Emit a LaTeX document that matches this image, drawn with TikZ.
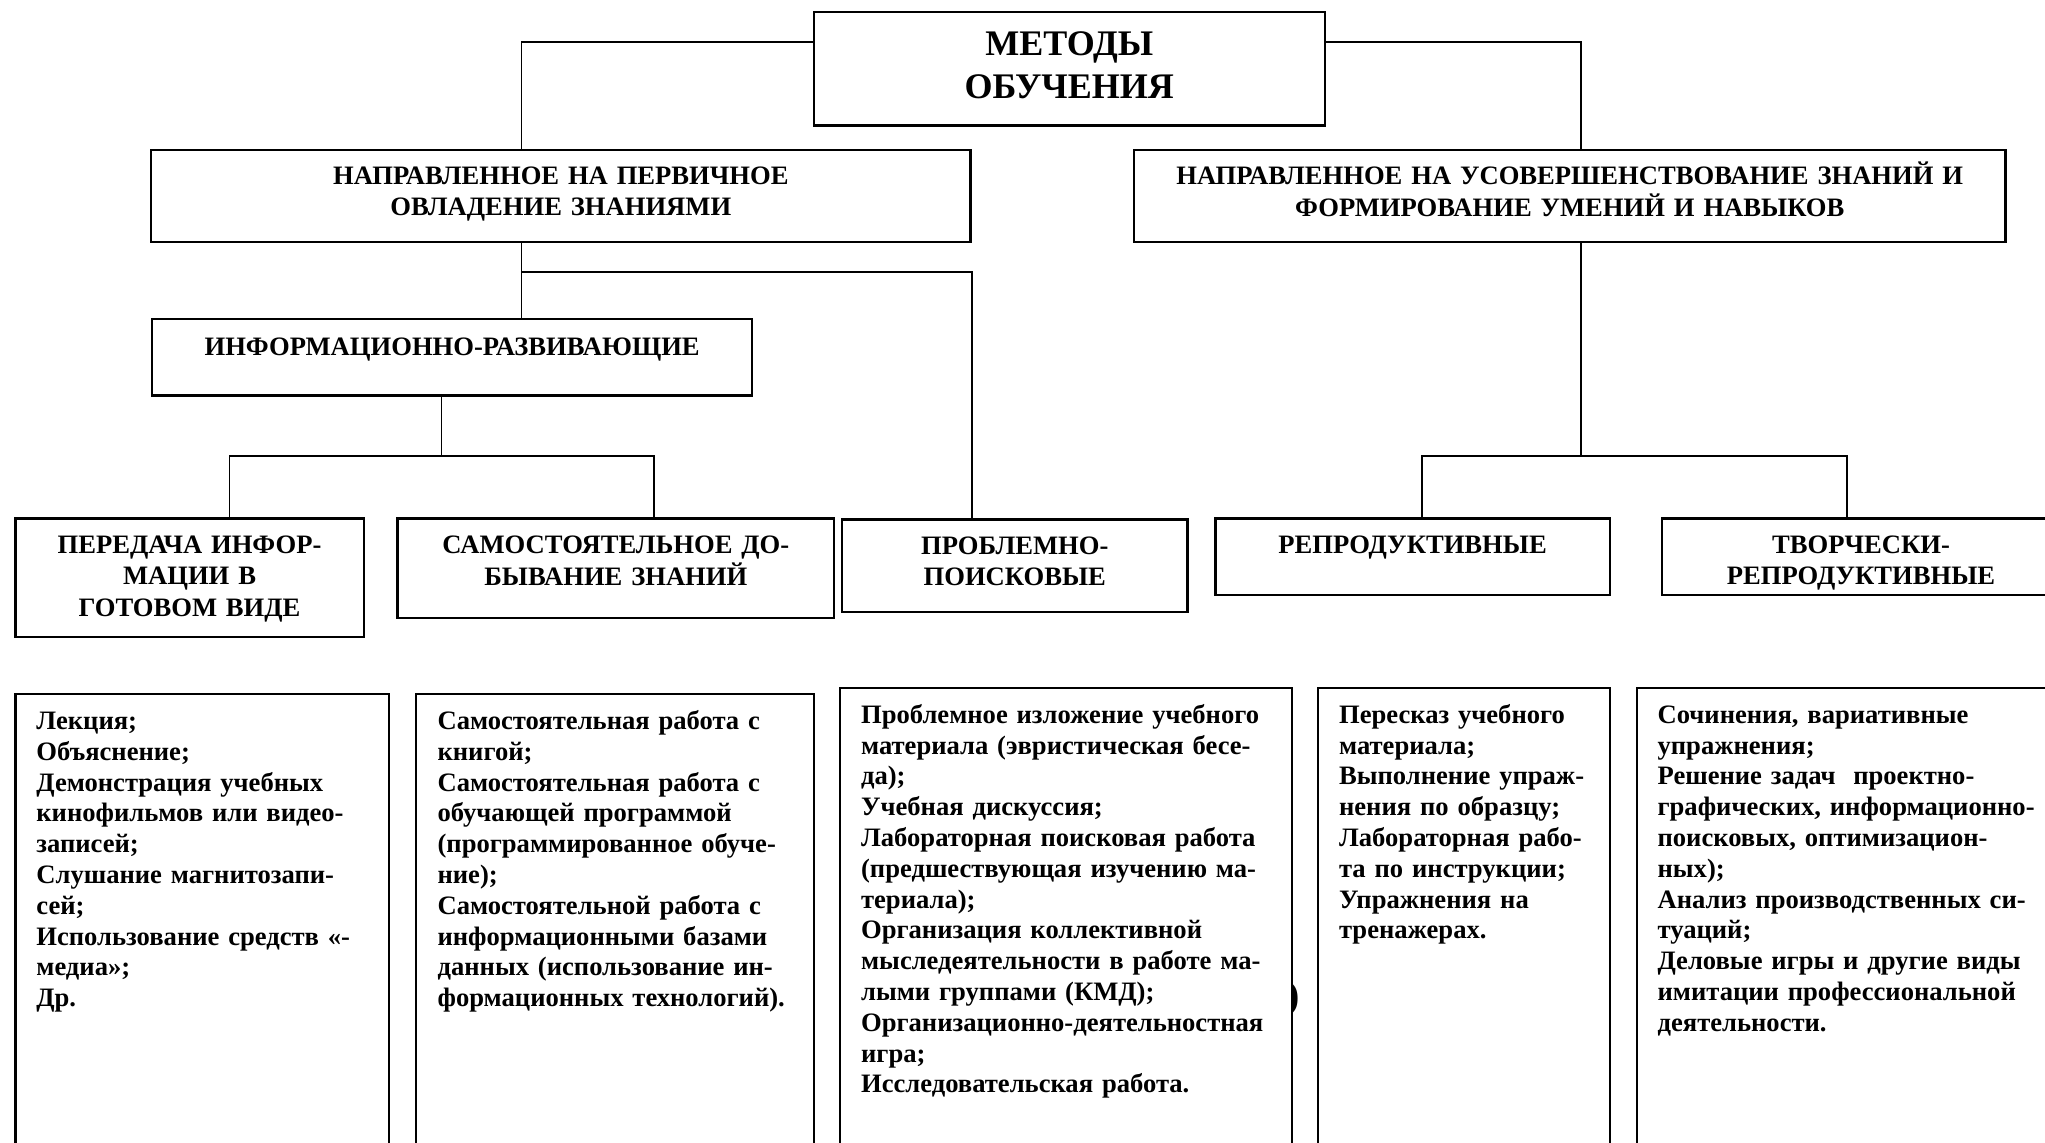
\documentclass[tikz,border=0pt]{standalone}
\usepackage{fontspec}
\setmainfont{Liberation Serif}
\newcommand\headfont{\fontsize{13.3}{15.7}\selectfont\bfseries}
\newcommand\listfont{\fontsize{13.3}{15.4}\selectfont\bfseries}
\newcommand\titlefont{\fontsize{18}{21.2}\selectfont\bfseries}
\newcommand\headtab[1]{\begin{tabular}[t]{@{}c@{}}#1\end{tabular}}
\newcommand\listtab[1]{\begin{tabular}[t]{@{}l@{}}#1\end{tabular}}
\tikzset{
  boxline/.style={draw, line width=1.1pt, fill=white},
  hbox/.style={boxline, inner sep=0pt, anchor=north west, align=center, font=\headfont, text height=17pt},
  lbox/.style={boxline, inner ysep=0pt, inner xsep=10.5pt, anchor=north west, align=left, font=\listfont, text height=17.8pt},
  conn/.style={line width=0.9pt}
}
\begin{document}
\begin{tikzpicture}[x=0.5pt,y=-0.5pt]
\useasboundingbox (0,0) rectangle (2045,1142);
\clip (0,0) rectangle (2045,1142);
\fill[white] (0,0) rectangle (2045,1142);

% stray parenthesis
\node[inner sep=0pt, font=\fontsize{20}{24}\selectfont\bfseries] (paren) at (1293,999) {)};

% header boxes
\node[hbox, font=\titlefont, text width=255.4pt, text height=21.85pt, text depth=34.8pt] (title) at (812.7,11) {\headtab{МЕТОДЫ\\ОБУЧЕНИЯ}};
\node[hbox, text width=409.7pt, text depth=28.85pt] (n1) at (150,149) {\headtab{НАПРАВЛЕННОЕ НА ПЕРВИЧНОЕ\\ОВЛАДЕНИЕ ЗНАНИЯМИ}};
\node[hbox, text width=435.8pt, text depth=28.85pt] (n2) at (1132.8,149) {\headtab{НАПРАВЛЕННОЕ НА УСОВЕРШЕНСТВОВАНИЕ ЗНАНИЙ И\\ФОРМИРОВАНИЕ УМЕНИЙ И НАВЫКОВ}};
\node[hbox, text width=300pt, text height=18.3pt, text depth=20pt] (inf) at (151,317.7) {\headtab{ИНФОРМАЦИОННО-РАЗВИВАЮЩИЕ}};
\node[hbox, text width=174.1pt, text height=17.5pt, text depth=41.85pt] (per) at (14.3,517.3) {\headtab{ПЕРЕДАЧА ИНФОР-\\МАЦИИ В\\ГОТОВОМ ВИДЕ}};
\node[hbox, text width=218.3pt, text height=17.5pt, text depth=32.2pt] (sam) at (396.4,517.3) {\headtab{САМОСТОЯТЕЛЬНОЕ ДО-\\БЫВАНИЕ ЗНАНИЙ}};
\node[hbox, text width=172.65pt, text height=17.4pt, text depth=28.8pt] (prob) at (841,518.3) {\headtab{ПРОБЛЕМНО-\\ПОИСКОВЫЕ}};
\node[hbox, text width=197.2pt, text height=17.5pt, text depth=20.85pt] (rep) at (1214.3,517.3) {\headtab{РЕПРОДУКТИВНЫЕ}};
\node[hbox, text width=199.1pt, text height=17.5pt, text depth=20.85pt] (tv) at (1660.8,517.3) {\headtab{ТВОРЧЕСКИ-\\РЕПРОДУКТИВНЫЕ}};

% list boxes
\node[lbox, text width=165.85pt, text depth=220.85pt] (b1) at (14.3,692.7) {\listtab{Лекция;\\Объяснение;\\Демонстрация учебных\\кинофильмов или видео-\\записей;\\Слушание магнитозапи-\\сей;\\Использование средств «-\\медиа»;\\Др.}};
\node[lbox, text width=177.25pt, inner xsep=11pt, text depth=220.85pt] (b2) at (414.5,692.7) {\listtab{Самостоятельная работа с\\книгой;\\Самостоятельная работа с\\обучающей программой\\(программированное обуче-\\ние);\\Самостоятельной работа с\\информационными базами\\данных (использование ин-\\формационных технологий).}};
\node[lbox, text width=204.85pt, text depth=223.95pt] (b3) at (839,686.5) {\listtab{Проблемное изложение учебного\\материала (эвристическая бесе-\\да);\\Учебная дискуссия;\\Лабораторная поисковая работа\\(предшествующая изучению ма-\\териала);\\Организация коллективной\\мыследеятельности в работе ма-\\лыми группами (КМД);\\Организационно-деятельностная\\игра;\\Исследовательская работа.}};
\node[lbox, text width=124.85pt, text depth=223.95pt] (b4) at (1317,686.5) {\listtab{Пересказ учебного\\материала;\\Выполнение упраж-\\нения по образцу;\\Лабораторная рабо-\\та по инструкции;\\Упражнения на\\тренажерах.}};
\node[lbox, text width=191.25pt, text depth=223.95pt] (b5) at (1635.5,686.5) {\listtab{Сочинения, вариативные\\упражнения;\\Решение задач\ \ проектно-\\графических, информационно-\\поисковых, оптимизацион-\\ных);\\Анализ производственных си-\\туаций;\\Деловые игры и другие виды\\имитации профессиональной\\деятельности.}};

% junctions
\coordinate (jTL) at (521.5,41.7);
\coordinate (jTR) at (1581.3,41.7);
\coordinate (jB) at (972,271.7);
\coordinate (jI) at (441.5,456);
\coordinate (jIa) at (229.5,456);
\coordinate (jIb) at (653.8,456);
\coordinate (jRa) at (1422.3,456);
\coordinate (jRb) at (1847.3,456);

% connectors
\draw[conn] (title.west |- jTL) -- (jTL) -- (jTL |- n1.north);
\draw[conn] (title.east |- jTR) -- (jTR) -- (jTR |- n2.north);
\draw[conn] (jTL |- n1.south) -- (jTL |- inf.north);
\draw[conn] (jTL |- jB) -- (jB) -- (jB |- prob.north);
\draw[conn] (jI |- inf.south) -- (jI);
\draw[conn] (jIa |- per.north) -- (jIa) -- (jIb) -- (jIb |- sam.north);
\draw[conn] (jTR |- n2.south) -- (jTR |- jRa);
\draw[conn] (jRa |- rep.north) -- (jRa) -- (jRb) -- (jRb |- tv.north);
\end{tikzpicture}
\end{document}
